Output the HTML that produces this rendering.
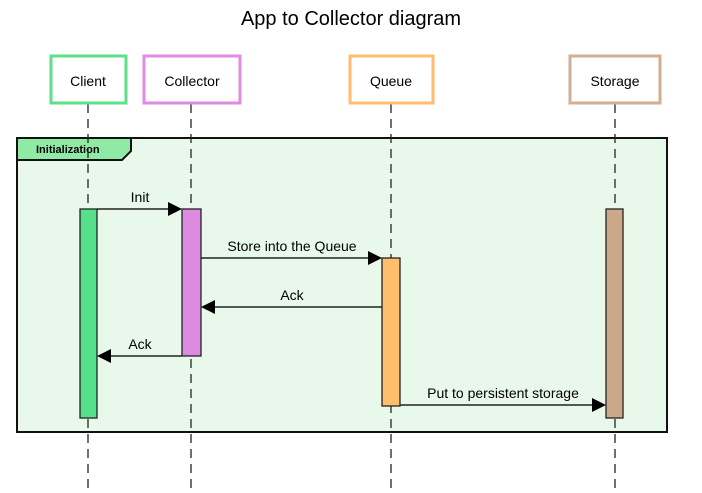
<!DOCTYPE html>
<html><head><style>
body{margin:0;background:#fff;}
svg{display:block;font-family:"Liberation Sans",Arial,sans-serif;}
</style></head><body>
<svg width="702" height="493" viewBox="0 0 702 493" xmlns="http://www.w3.org/2000/svg">
<text x="351" y="25" font-size="20" text-anchor="middle" fill="#000">App to Collector diagram</text>
<rect x="17" y="138" width="650" height="294" fill="#e8f9ec" stroke="#111" stroke-width="2"/>
<polygon points="17,138 131,138 131,151 122,160 17,160" fill="#8feaa6" stroke="#111" stroke-width="2"/>
<text x="36" y="153" font-size="11" font-weight="bold">Initialization</text>
<g stroke="#222" stroke-width="1.3" stroke-dasharray="9,6">
<line x1="88" y1="104" x2="88" y2="493"/>
<line x1="191" y1="104" x2="191" y2="493"/>
<line x1="391" y1="104" x2="391" y2="493"/>
<line x1="615" y1="104" x2="615" y2="493"/>
</g>
<g stroke-width="3" fill="#fff">
<rect x="51" y="56" width="75" height="47" stroke="#5ce08a"/>
<rect x="144" y="56" width="96" height="47" stroke="#df8be0"/>
<rect x="350" y="56" width="83" height="47" stroke="#ffbd6e"/>
<rect x="570" y="56" width="90" height="47" stroke="#d2af93"/>
</g>
<g font-size="14" text-anchor="middle" fill="#000">
<text x="88" y="86">Client</text>
<text x="192" y="86">Collector</text>
<text x="391" y="86">Queue</text>
<text x="615" y="86">Storage</text>
</g>
<g stroke="#222" stroke-width="1.3">
<rect x="80" y="209" width="17" height="209" fill="#57e08a"/>
<rect x="182" y="209" width="19" height="147" fill="#dd8bdf"/>
<rect x="382" y="258" width="18" height="148" fill="#ffbd6e"/>
<rect x="606" y="209" width="17" height="209" fill="#cca88b"/>
</g>
<g stroke="#222" stroke-width="1.5">
<line x1="97" y1="209" x2="170" y2="209"/>
<line x1="201" y1="258" x2="370" y2="258"/>
<line x1="382" y1="307" x2="213" y2="307"/>
<line x1="182" y1="356" x2="109" y2="356"/>
<line x1="400" y1="405" x2="594" y2="405"/>
</g>
<g fill="#000">
<polygon points="182,209 168,202 168,216"/>
<polygon points="382,258 368,251 368,265"/>
<polygon points="201,307 215,300 215,314"/>
<polygon points="97,356 111,349 111,363"/>
<polygon points="606,405 592,398 592,412"/>
</g>
<g font-size="14" text-anchor="middle" fill="#000">
<text x="140" y="202">Init</text>
<text x="292" y="251">Store into the Queue</text>
<text x="292" y="300">Ack</text>
<text x="140" y="349">Ack</text>
<text x="503" y="398">Put to persistent storage</text>
</g>
</svg>
</body></html>
